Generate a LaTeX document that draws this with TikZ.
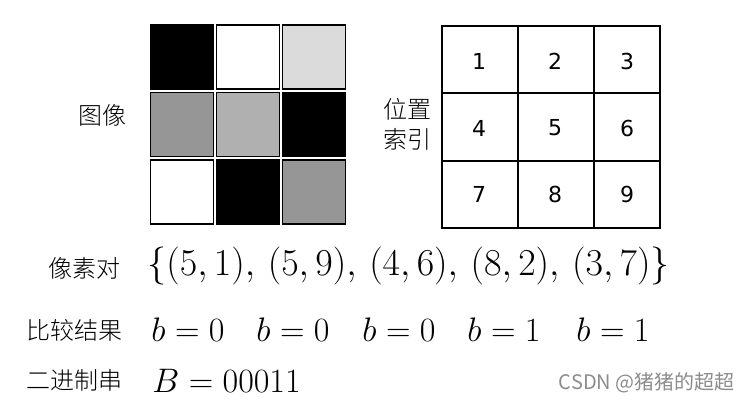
\RequirePackage{fix-cm}
\documentclass[tikz,border=0pt]{standalone}
\usepackage{amsmath}
\usepackage{fontspec}
\newfontfamily\cjk{Noto Sans CJK SC}[UprightFont=* Light]
\newfontfamily\wmfont{Noto Sans CJK SC}
\newfontfamily\numfont{DejaVu Sans}
\usepackage{tikz}
\usetikzlibrary{calc}

\tikzset{
    pixel/.style={draw=black, line width=0.8pt, minimum width=31.5pt, minimum height=32pt, inner sep=0pt},
    idx/.style={font=\numfont\fontsize{11}{13}\selectfont},
    lbl/.style={font=\cjk\fontsize{12}{15}\selectfont, anchor=east, inner sep=0pt, text=black},
    bigmath/.style={font=\fontsize{17}{20}\selectfont, inner sep=0pt}
}

\begin{document}
\begin{tikzpicture}[x=0.5pt,y=-0.5pt]
\useasboundingbox (0,0) rectangle (748,400);

% Image pixels
\foreach \c [count=\k from 0] in {black,white,black!14,black!41,black!31,black,white,black,black!41}{
    \pgfmathtruncatemacro\col{mod(\k,3)}
    \pgfmathtruncatemacro\row{div(\k,3)}
    \node[pixel, fill=\c] (P\k) at (182+66*\col, 57+67.5*\row){};
}
\node[lbl] (imglbl) at (127,115){图像};

% Position index
\draw[line width=0.7pt] (442,26) rectangle (660,228);
\draw[line width=0.7pt] (518,26) -- (518,228) (594,26) -- (594,228);
\draw[line width=0.7pt] (442,93) -- (660,93) (442,161) -- (660,161);
\foreach \n/\x/\y in {1/479/61,2/555/61,3/627/61,4/479/128,5/555/128,6/627/128,7/479/194,8/555/194,9/627/194}{
    \node[idx] (I\n) at (\x,\y){\n};
}
\node[lbl, align=center] (poslbl) at (432,124){位置\\索引};

% Pixel pairs
\node[lbl] (pairlbl) at (121,268){像素对};
\node[bigmath, font=\fontsize{19}{22}\selectfont, anchor=west] (pairs) at (147,266)
    {$\{(5,1),\,(5,9),\,(4,6),\,(8,2),\,(3,7)\}$};

% Comparison
\node[lbl] (cmplbl) at (123,330){比较结果};
\foreach \v/\x [count=\k] in {0/188,0/293,0/399,1/504,1/613}{
    \node[bigmath] (b\k) at (\x,330){$b=\v$};
}

% Binary string
\node[lbl] (binlbl) at (123,380){二进制串};
\node[bigmath, anchor=west] (bin) at (152,381){$B=00011$};

\node[font=\wmfont\fontsize{10}{12}\selectfont, text=black!45, anchor=east, inner sep=0pt] (mark) at (735,383){CSDN @猪猪的超超};
\end{tikzpicture}
\end{document}
